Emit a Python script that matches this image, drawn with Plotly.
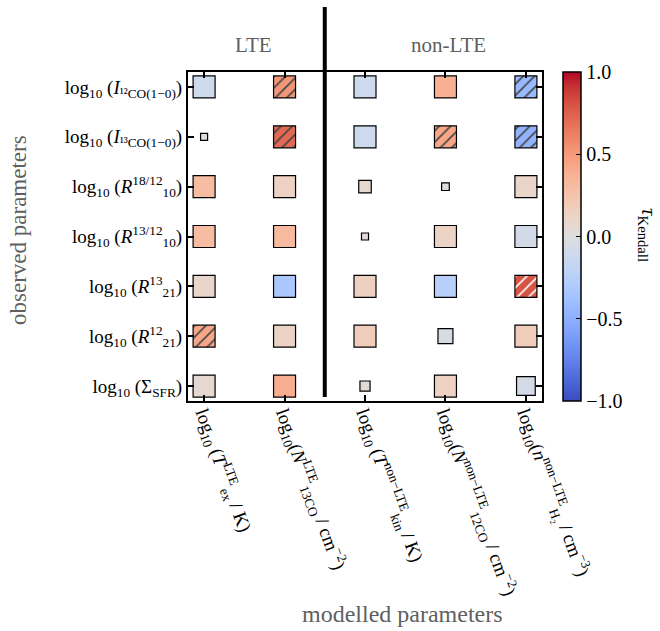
import plotly.graph_objects as go

# ---------------- data ----------------
modelled = [
    "log<sub>10</sub> (<i>T</i><sup>LTE</sup><sub>ex</sub> / K)",
    "log<sub>10</sub>(<i>N</i><sup>LTE</sup><sub>13CO</sub> / cm<sup>−2</sup>)",
    "log<sub>10</sub> (<i>T</i><sup>non−LTE</sup><sub>kin</sub> / K)",
    "log<sub>10</sub>(<i>N</i><sup>non−LTE</sup><sub>12CO</sub> / cm<sup>−2</sup>)",
    "log<sub>10</sub>(<i>n</i><sup>non−LTE</sup><sub>H₂</sub> / cm<sup>−3</sup>)",
]
observed = [
    "log<sub>10</sub> (<i>I</i><sub>¹²CO(1−0)</sub>)",
    "log<sub>10</sub> (<i>I</i><sub>¹³CO(1−0)</sub>)",
    "log<sub>10</sub> (<i>R</i><sup>18/12</sup><sub>10</sub>)",
    "log<sub>10</sub> (<i>R</i><sup>13/12</sup><sub>10</sub>)",
    "log<sub>10</sub> (<i>R</i><sup>13</sup><sub>21</sub>)",
    "log<sub>10</sub> (<i>R</i><sup>12</sup><sub>21</sub>)",
    "log<sub>10</sub> (Σ<sub>SFR</sub>)",
]
# Kendall tau (rows = observed, cols = modelled)
tau = [
    [-0.12, 0.52, -0.12, 0.38, -0.44],
    [0.00, 0.72, -0.12, 0.44, -0.48],
    [0.30, 0.14, 0.06, 0.00, 0.10],
    [0.30, 0.32, 0.02, 0.12, -0.08],
    [0.10, -0.33, 0.15, -0.25, 0.80],
    [0.44, 0.13, 0.18, -0.05, 0.18],
    [0.06, 0.40, 0.03, 0.14, -0.06],
]
# relative marker size (significance)
size_frac = [
    [1, 1, 1, 1, 1],
    [0.32, 1, 1, 1, 1],
    [1, 1, 0.57, 0.35, 1],
    [1, 1, 0.32, 1, 1],
    [1, 1, 1, 1, 1],
    [1, 1, 1, 0.68, 1],
    [1, 1, 0.46, 1, 0.85],
]
# hatched = significant
hatched = [
    [0, 1, 0, 0, 1],
    [0, 1, 0, 1, 1],
    [0, 0, 0, 0, 0],
    [0, 0, 0, 0, 0],
    [0, 0, 0, 0, 1],
    [1, 0, 0, 0, 0],
    [0, 0, 0, 0, 0],
]
cb_ticks = [-1.0, -0.5, 0.0, 0.5, 1.0]
cb_ticktext = ["−1.0", "−0.5", "0.0", "0.5", "1.0"]

# ---------------- style ----------------
cw = [
    (0.0, (59, 76, 192)), (0.03125, (68, 90, 204)), (0.0625, (77, 104, 215)),
    (0.09375, (87, 117, 225)), (0.125, (98, 130, 234)), (0.15625, (108, 142, 241)),
    (0.1875, (119, 154, 247)), (0.21875, (130, 165, 251)), (0.25, (141, 176, 254)),
    (0.28125, (152, 185, 255)), (0.3125, (163, 194, 255)), (0.34375, (174, 201, 253)),
    (0.375, (184, 208, 249)), (0.40625, (194, 213, 244)), (0.4375, (204, 217, 238)),
    (0.46875, (213, 219, 230)), (0.5, (221, 221, 221)), (0.53125, (229, 216, 209)),
    (0.5625, (236, 211, 197)), (0.59375, (241, 204, 185)), (0.625, (245, 196, 173)),
    (0.65625, (247, 187, 160)), (0.6875, (247, 177, 148)), (0.71875, (247, 166, 135)),
    (0.75, (244, 154, 123)), (0.78125, (241, 141, 111)), (0.8125, (236, 127, 99)),
    (0.84375, (229, 112, 88)), (0.875, (222, 96, 77)), (0.90625, (213, 80, 66)),
    (0.9375, (203, 62, 56)), (0.96875, (192, 40, 47)), (1.0, (180, 4, 38)),
]
colorscale = [[p, "rgb(%d,%d,%d)" % c] for p, c in cw]


def cmap(v):
    t = (v + 1) / 2
    t = min(max(t, 0), 1)
    for (p0, c0), (p1, c1) in zip(cw[:-1], cw[1:]):
        if p0 <= t <= p1:
            f = (t - p0) / (p1 - p0) if p1 > p0 else 0
            c = [round(a + (b - a) * f) for a, b in zip(c0, c1)]
            return "rgb(%d,%d,%d)" % tuple(c)
    return "rgb(%d,%d,%d)" % cw[-1][1]


W, H = 660, 631
L, R, T, B = 188, 118, 72, 230
xr = [-0.2, len(modelled) - 1 + 0.2]
yr = [len(observed) - 1 + 0.3, -0.3]
pw, ph = W - L - R, H - T - B
px_x = pw / (xr[1] - xr[0])
px_y = ph / (yr[0] - yr[1])
SQ = 22  # full square size in px

xs, bases, hs, ws, cols, shapes_ = [], [], [], [], [], []
for i in range(len(observed)):
    for j in range(len(modelled)):
        s = SQ * size_frac[i][j]
        h = s / px_y
        xs.append(j)
        ws.append(s / px_x)
        hs.append(h)
        bases.append(i - h / 2)
        cols.append(cmap(tau[i][j]))
        shapes_.append("/" if hatched[i][j] else "")

font = "Liberation Serif"
gray = "#5f5f5f"

fig = go.Figure()
fig.add_trace(go.Bar(
    x=xs, y=hs, base=bases, width=ws,
    marker=dict(color=cols, line=dict(color="black", width=1.2),
                pattern=dict(shape=shapes_, fillmode="overlay", fgcolor="black",
                             fgopacity=1, size=8, solidity=0.2)),
    showlegend=False, hoverinfo="skip",
))
fig.add_trace(go.Scatter(
    x=[None], y=[None], mode="markers", showlegend=False,
    marker=dict(color=[-1, 1], cmin=-1, cmax=1, colorscale=colorscale, showscale=True,
                colorbar=dict(x=(563 - L) / pw, xanchor="left", y=0, yanchor="bottom",
                              xpad=0, ypad=0,
                              len=1, lenmode="fraction", thickness=18,
                              outlinecolor="black", outlinewidth=1.5,
                              tickvals=cb_ticks, ticktext=cb_ticktext,
                              ticks="inside", ticklen=5, tickcolor="black",
                              tickfont=dict(size=20, color="black", family=font))),
))

fig.update_layout(
    width=W, height=H, margin=dict(l=L, r=R, t=T, b=B),
    plot_bgcolor="white", paper_bgcolor="white", barmode="overlay",
    font=dict(family=font, size=19, color="black"),
    xaxis=dict(range=xr, tickvals=list(range(len(modelled))), ticktext=modelled,
               tickangle=70, showline=True, linecolor="black", linewidth=2,
               mirror="ticks", ticks="inside", ticklen=6, tickwidth=1.5,
               tickcolor="black", showgrid=False, zeroline=False,
               ticklabelstandoff=-8,
               tickfont=dict(size=19, family=font)),
    yaxis=dict(range=yr, tickvals=list(range(len(observed))), ticktext=observed,
               showline=True, linecolor="black", linewidth=2,
               mirror="ticks", ticks="inside", ticklen=6, tickwidth=1.5,
               tickcolor="black", showgrid=False, zeroline=False,
               tickfont=dict(size=19, family=font)),
)

# separator between LTE and non-LTE
sep_x = (1.5 - xr[0]) / (xr[1] - xr[0])
fig.add_shape(type="line", xref="paper", yref="paper", x0=sep_x, x1=sep_x,
              y0=(H - B - 397) / ph, y1=(H - B - 7) / ph,
              line=dict(color="black", width=4))


def pp(px, py):
    return (px - L) / pw, (H - B - py) / ph


anns = [
    ("LTE", 253, 45, 0, 21),
    ("non-LTE", 448, 45, 0, 21),
    ("observed parameters", 18, 230, -90, 23),
    ("modelled parameters", 402, 614, 0, 24),
]
for txt, X, Y, ang, fs in anns:
    ax, ay = pp(X, Y)
    fig.add_annotation(text=txt, x=ax, y=ay, xref="paper", yref="paper",
                       showarrow=False, textangle=ang, xanchor="center", yanchor="middle",
                       font=dict(size=fs, color=gray, family=font))
ax, ay = pp(648, 235)
fig.add_annotation(text="<i>τ</i><sub>Kendall</sub>", x=ax, y=ay, xref="paper", yref="paper",
                   showarrow=False, textangle=90, xanchor="center", yanchor="middle",
                   font=dict(size=21, color="black", family=font))

fig.write_html("out.html")
